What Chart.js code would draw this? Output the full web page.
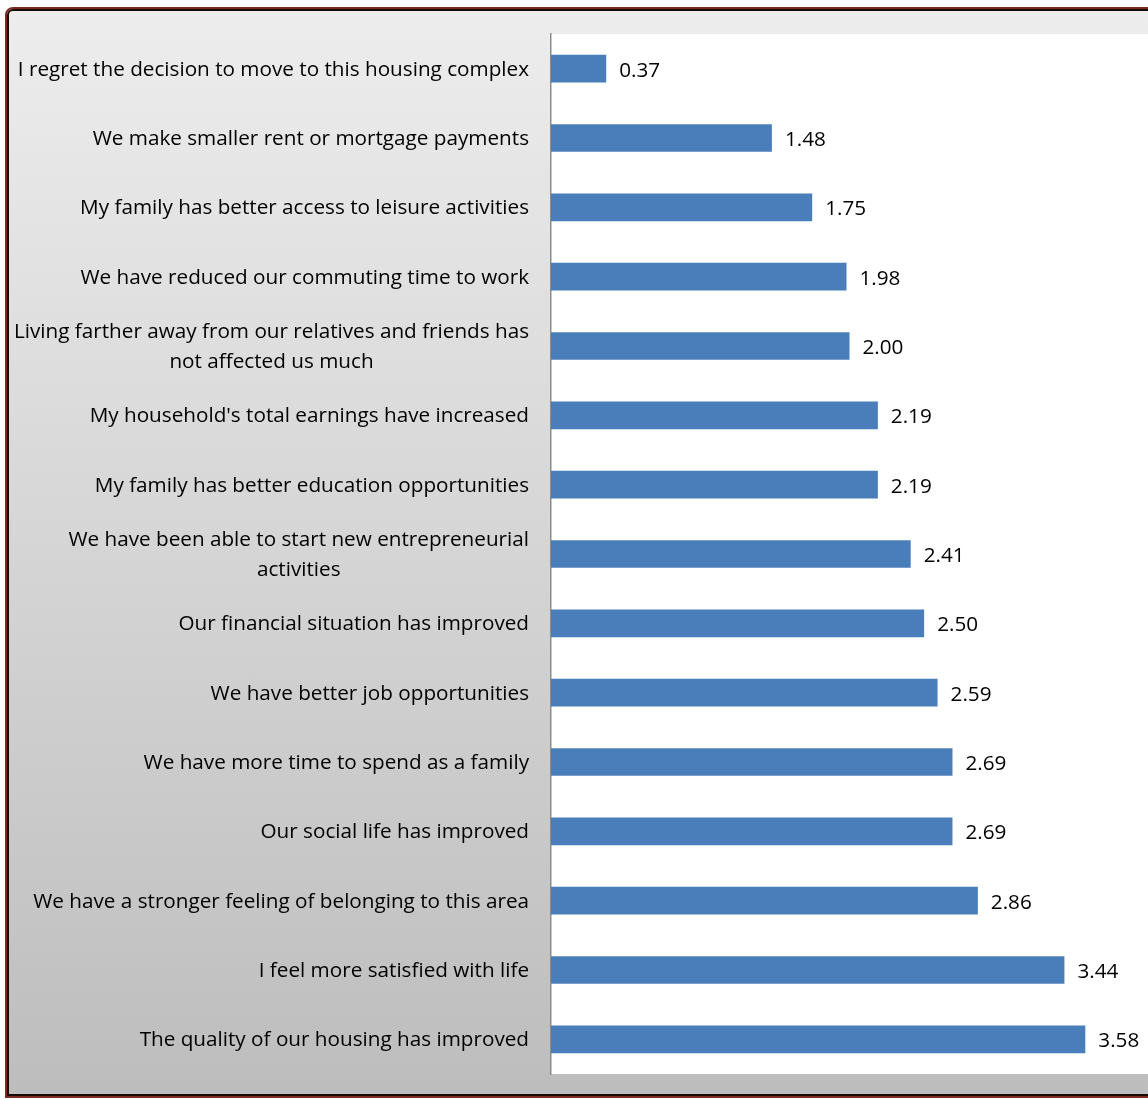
<!DOCTYPE html>
<html>
<head>
<meta charset="utf-8">
<script src="https://cdn.jsdelivr.net/npm/chart.js@4"></script>
<style>
  body { margin: 0; background: #fff; width: 1148px; height: 1100px; overflow: hidden; position: relative; }
  .frame {
    position: absolute; left: 5px; top: 7px; width: 1160px; height: 1087px;
    border: 2px solid #7b2a1f; border-top-left-radius: 8px;
    box-shadow: inset 0 0 0 2px #1a0a06;
    background: linear-gradient(to bottom, #ededed 0%, #bdbdbd 100%);
  }
  canvas { position: absolute; left: 0; top: 0; }
</style>
</head>
<body>
<div class="frame"></div>
<canvas id="chart" width="1148" height="1100"></canvas>
<script>
let labels = [
  "I regret the decision to move to this housing complex",
  "We make smaller rent or mortgage payments",
  "My family has better access to leisure activities",
  "We have reduced our commuting time to work",
  ["Living farther away from our relatives and friends has", "not affected us much"],
  "My household's total earnings have increased",
  "My family has better education opportunities",
  ["We have been able to start new entrepreneurial", "activities"],
  "Our financial situation has improved",
  "We have better job opportunities",
  "We have more time to spend as a family",
  "Our social life has improved",
  "We have a stronger feeling of belonging to this area",
  "I feel more satisfied with life",
  "The quality of our housing has improved",
];
let values = [0.37, 1.48, 1.75, 1.98, 2.0, 2.19, 2.19, 2.41, 2.5, 2.59, 2.69, 2.69, 2.86, 3.44, 3.58];

let fontName = "'Open Sans', 'Noto Sans', sans-serif";
let fontCss = "20.7px " + fontName;

// white plot area behind the bars
let plotBg = {
  id: "plotBg",
  beforeDraw: (chart) => {
    let { ctx, chartArea } = chart;
    ctx.save();
    ctx.fillStyle = "#ffffff";
    ctx.fillRect(chartArea.left, chartArea.top, chartArea.right - chartArea.left, chartArea.bottom - chartArea.top);
    ctx.restore();
  },
};

// category labels: block right aligned, lines centred within the block (like the original)
let categoryLabels = {
  id: "categoryLabels",
  afterDraw: (chart) => {
    let { ctx } = chart;
    let yScale = chart.scales.y;
    let right = chart.chartArea.left - 22;
    let lineH = 29.5;
    ctx.save();
    ctx.font = fontCss;
    ctx.fillStyle = "#000";
    ctx.textBaseline = "middle";
    ctx.textAlign = "center";
    labels.forEach((lab, i) => {
      let lines = Array.isArray(lab) ? lab : [lab];
      let maxW = Math.max(...lines.map((l) => ctx.measureText(l).width));
      let cx = right - maxW / 2;
      let y0 = yScale.getPixelForTick(i) + 1 - ((lines.length - 1) * lineH) / 2;
      lines.forEach((l, j) => ctx.fillText(l, cx, y0 + j * lineH));
    });
    ctx.restore();
  },
};

// value next to each bar
let valueLabels = {
  id: "valueLabels",
  afterDatasetsDraw: (chart) => {
    let { ctx } = chart;
    let meta = chart.getDatasetMeta(0);
    ctx.save();
    ctx.font = fontCss;
    ctx.fillStyle = "#000";
    ctx.textBaseline = "middle";
    meta.data.forEach((bar, i) => {
      ctx.fillText(values[i].toFixed(2), bar.x + 13, bar.y + 2);
    });
    ctx.restore();
  },
};

new Chart(document.getElementById("chart"), {
  type: "bar",
  data: {
    labels: labels,
    datasets: [
      {
        data: values,
        backgroundColor: "#4a7ebb",
        borderWidth: 0,
        barPercentage: 0.4,
        categoryPercentage: 1,
      },
    ],
  },
  options: {
    indexAxis: "y",
    responsive: false,
    animation: false,
    layout: { padding: { top: 34, bottom: 26, left: 0, right: 0 } },
    plugins: { legend: { display: false }, tooltip: { enabled: false } },
    scales: {
      x: { display: false, min: 0, max: 4 },
      y: {
        grid: { display: false },
        border: { display: true, color: "#8c8c8c", width: 1.5 },
        ticks: { display: false },
        afterFit: (scale) => {
          scale.width = 551;
        },
      },
    },
  },
  plugins: [plotBg, categoryLabels, valueLabels],
});
</script>
</body>
</html>
